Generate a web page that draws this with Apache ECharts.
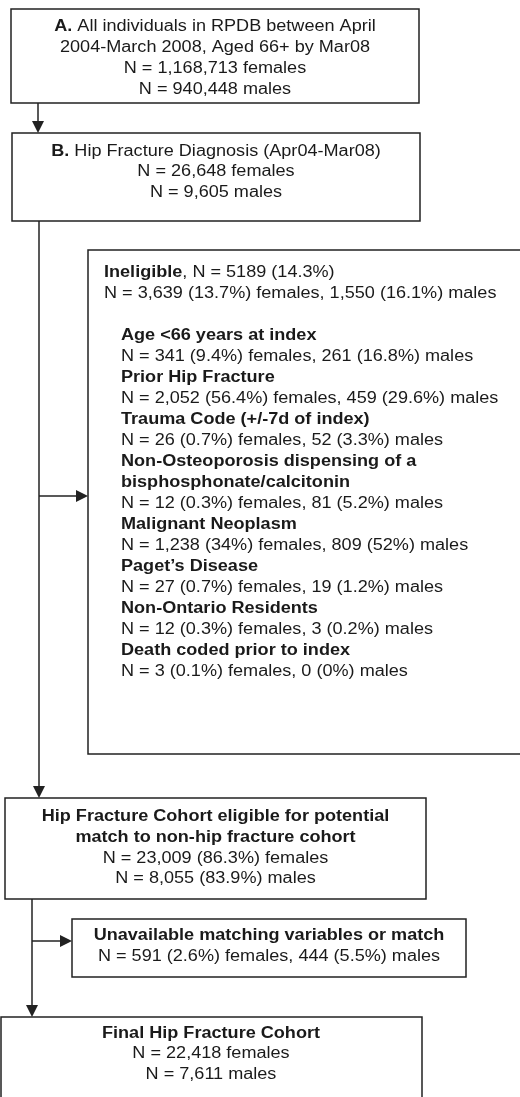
<!DOCTYPE html>
<html>
<head>
<meta charset="utf-8">
<script src="https://cdn.jsdelivr.net/npm/echarts@6/dist/echarts.min.js"></script>
<style>
  html, body { margin: 0; padding: 0; background: #fff; }
  #chart { width: 520px; height: 1097px; }
</style>
</head>
<body>
<div id="chart"></div>
<script>
// box texts ({b|...} = bold)
const boxA = [
  '{b|A.} All individuals in RPDB between April',
  '2004-March 2008, Aged 66+ by Mar08',
  'N = 1,168,713 females',
  'N = 940,448 males'
];
const boxB = [
  '{b|B.} Hip Fracture Diagnosis (Apr04-Mar08)',
  'N = 26,648 females',
  'N = 9,605 males'
];
const ineligibleHead = [
  '{b|Ineligible}, N = 5189 (14.3%)',
  'N = 3,639 (13.7%) females, 1,550 (16.1%) males'
];
const reasons = [
  ['Age <66 years at index'],
  ['Prior Hip Fracture'],
  ['Trauma Code (+/-7d of index)'],
  ['Non-Osteoporosis dispensing of a', 'bisphosphonate/calcitonin'],
  ['Malignant Neoplasm'],
  ['Paget\u2019s Disease'],
  ['Non-Ontario Residents'],
  ['Death coded prior to index']
];
const femaleN   = ['341', '2,052', '26', '12', '1,238', '27', '12', '3'];
const femalePct = ['9.4%', '56.4%', '0.7%', '0.3%', '34%', '0.7%', '0.3%', '0.1%'];
const maleN     = ['261', '459', '52', '81', '809', '19', '3', '0'];
const malePct   = ['16.8%', '29.6%', '3.3%', '5.2%', '52%', '1.2%', '0.2%', '0%'];
const boxC = [
  '{b|Hip Fracture Cohort eligible for potential}',
  '{b|match to non-hip fracture cohort}',
  'N = 23,009 (86.3%) females',
  'N = 8,055 (83.9%) males'
];
const boxUnavailable = [
  '{b|Unavailable matching variables or match}',
  'N = 591 (2.6%) females, 444 (5.5%) males'
];
const boxFinal = [
  '{b|Final Hip Fracture Cohort}',
  'N = 22,418 females',
  'N = 7,611 males'
];

// ineligible block lines
const ineligibleLines = ineligibleHead.slice();
const ineligibleIndent = [false, false];
ineligibleLines.push('');
ineligibleIndent.push(false);
reasons.forEach(function (r, i) {
  r.forEach(function (t) { ineligibleLines.push('{b|' + t + '}'); ineligibleIndent.push(true); });
  ineligibleLines.push('N = ' + femaleN[i] + ' (' + femalePct[i] + ') females, ' +
    maleN[i] + ' (' + malePct[i] + ') males');
  ineligibleIndent.push(true);
});

// layout: rect [x, y, w, h], text anchor, first line centre, line step
const layout = [
  { lines: boxA, rect: [11, 9, 408, 94], tx: 215, ty: 26.5, step: 21, align: 'center' },
  { lines: boxB, rect: [12, 133, 408, 88], tx: 216, ty: 151.5, step: 20.3, align: 'center' },
  { lines: ineligibleLines, rect: [88, 250, 460, 504], tx: 104, ty: 272.5, step: 21, align: 'left', indent: ineligibleIndent, indentX: 121 },
  { lines: boxC, rect: [5, 798, 421, 101], tx: 215.5, ty: 816.5, step: 20.8, align: 'center' },
  { lines: boxUnavailable, rect: [72, 919, 394, 58], tx: 269, ty: 935.5, step: 21, align: 'center' },
  { lines: boxFinal, rect: [1, 1017, 421, 110], tx: 211, ty: 1033.5, step: 20.5, align: 'center' }
];
const links = [
  [[38, 103], [38, 133]],
  [[39, 221], [39, 798]],
  [[39, 496], [88, 496]],
  [[32, 899], [32, 1017]],
  [[32, 941], [72, 941]]
];

const INK = '#222';
const FONT = '"Liberation Sans", Arial, Helvetica, sans-serif';
const SX = 1.13;
const elements = [];

layout.forEach(function (b) {
  elements.push({
    type: 'rect',
    shape: { x: b.rect[0], y: b.rect[1], width: b.rect[2], height: b.rect[3] },
    style: { fill: '#fff', stroke: INK, lineWidth: 1.5 },
    z: 1
  });
  b.lines.forEach(function (t, i) {
    if (!t) return;
    const x = b.indent && b.indent[i] ? b.indentX : b.tx;
    elements.push({
      type: 'text',
      x: x,
      y: b.ty + i * b.step,
      scaleX: SX,
      z: 3,
      style: {
        text: t,
        fill: '#1a1a1a',
        fontFamily: FONT,
        fontSize: 16,
        align: b.align,
        verticalAlign: 'middle',
        rich: { b: { fontWeight: 'bold', fontFamily: FONT, fontSize: 16, fill: '#1a1a1a' } }
      }
    });
  });
});

links.forEach(function (p) {
  const a = p[0], e = p[1];
  const dx = Math.sign(e[0] - a[0]), dy = Math.sign(e[1] - a[1]);
  const L = 12, W = 6;
  const base = [e[0] - dx * L, e[1] - dy * L];
  elements.push({
    type: 'line',
    shape: { x1: a[0], y1: a[1], x2: base[0], y2: base[1] },
    style: { stroke: INK, lineWidth: 1.5 },
    z: 2
  });
  elements.push({
    type: 'polygon',
    shape: { points: [[e[0], e[1]], [base[0] + dy * W, base[1] + dx * W], [base[0] - dy * W, base[1] - dx * W]] },
    style: { fill: INK },
    z: 2
  });
});

const chart = echarts.init(document.getElementById('chart'), null, { renderer: 'canvas' });
chart.setOption({
  backgroundColor: '#fff',
  animation: false,
  graphic: { elements: elements }
});
</script>
</body>
</html>
